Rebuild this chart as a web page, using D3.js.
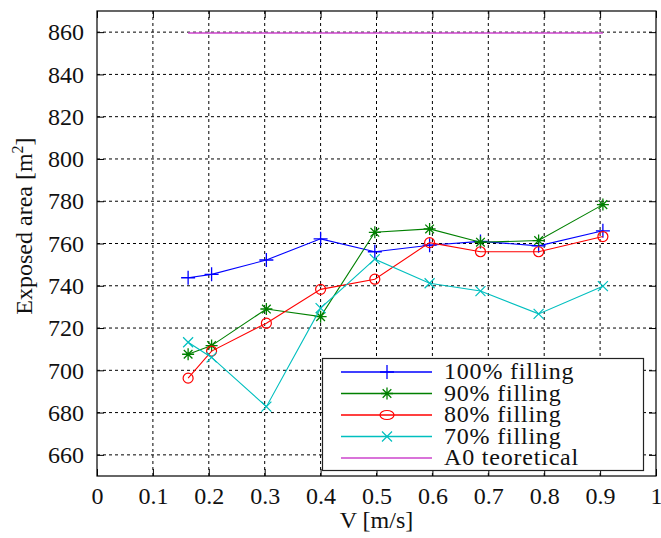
<!DOCTYPE html>
<html>
<head>
<meta charset="utf-8">
<script src="https://cdn.jsdelivr.net/npm/d3@7"></script>
<style>
  body { margin: 0; background: #fff; }
</style>
</head>
<body>
<svg id="chart"></svg>
<script>
const width = 661, height = 538;
const serifFont = '"Liberation Serif"';

// data
const velocity = [0.163, 0.205, 0.303, 0.4, 0.497, 0.595, 0.686, 0.79, 0.905];
const fill100 = [743.8, 745.4, 752.2, 762.2, 756.1, 759.2, 761.0, 758.9, 766.0];
const fill90 = [707.6, 711.7, 729.0, 725.4, 765.3, 766.9, 760.6, 761.4, 778.4];
const fill80 = [696.3, 709.1, 722.3, 738.3, 743.1, 760.4, 756.1, 756.1, 763.3];
const fill70 = [713.3, 706.1, 682.8, 729.4, 752.6, 741.2, 737.5, 726.7, 739.8];
const a0 = [859.6, 859.6, 859.6, 859.6, 859.6, 859.6, 859.6, 859.6, 859.6];

const xTicks = [0, 0.1, 0.2, 0.3, 0.4, 0.5, 0.6, 0.7, 0.8, 0.9, 1];
const yTicks = [660, 680, 700, 720, 740, 760, 780, 800, 820, 840, 860];

const series = [
  {name: "100% filling", values: fill100, color: "#0000ff", marker: "plus"},
  {name: "90% filling", values: fill90, color: "#008000", marker: "star"},
  {name: "80% filling", values: fill80, color: "#ff0000", marker: "circle"},
  {name: "70% filling", values: fill70, color: "#00bfbf", marker: "cross"},
  {name: "A0 teoretical", values: a0, color: "#cc44cc", marker: null}
];

const plotL = 97, plotR = 656, plotT = 11, plotB = 476;

const svg = d3.select("#chart")
  .attr("width", width)
  .attr("height", height);

const x = d3.scaleLinear().domain([0, 1]).range([plotL, plotR]);
const y = d3.scaleLinear().domain([650, 870]).range([plotB, plotT]);

// grid
svg.append("g")
  .selectAll("line")
  .data(xTicks.slice(1, -1))
  .enter().append("line")
  .attr("x1", d => x(d)).attr("x2", d => x(d))
  .attr("y1", plotT).attr("y2", plotB)
  .attr("stroke", "#000").attr("stroke-width", 1)
  .attr("stroke-dasharray", "3,3");
svg.append("g")
  .selectAll("line")
  .data(yTicks)
  .enter().append("line")
  .attr("x1", plotL).attr("x2", plotR)
  .attr("y1", d => y(d)).attr("y2", d => y(d))
  .attr("stroke", "#000").attr("stroke-width", 1)
  .attr("stroke-dasharray", "3,3");

// axes (ticks inward, on all sides)
const tick = 7;
svg.append("g").attr("transform", `translate(0,${plotB})`)
  .call(d3.axisBottom(x).tickValues(xTicks).tickSizeInner(-tick).tickSizeOuter(0).tickPadding(11).tickFormat(d3.format("~g")));
svg.append("g").attr("transform", `translate(0,${plotT})`)
  .call(d3.axisTop(x).tickValues(xTicks).tickSizeInner(-tick).tickSizeOuter(0).tickFormat(""));
svg.append("g").attr("transform", `translate(${plotL},0)`)
  .call(d3.axisLeft(y).tickValues(yTicks).tickSizeInner(-tick).tickSizeOuter(0).tickPadding(13));
svg.append("g").attr("transform", `translate(${plotR},0)`)
  .call(d3.axisRight(y).tickValues(yTicks).tickSizeInner(-tick).tickSizeOuter(0).tickFormat(""));

svg.selectAll(".domain").remove();
svg.selectAll("g").attr("font-family", null).attr("font-size", null);
svg.selectAll(".tick line").attr("stroke", "#000");
svg.selectAll(".tick text").style("font-size", "24px");

svg.append("rect")
  .attr("x", plotL).attr("y", plotT)
  .attr("width", plotR - plotL).attr("height", plotB - plotT)
  .attr("fill", "none").attr("stroke", "#000").attr("stroke-width", 1.2);

// marker drawing
function drawMarker(g, type, cx, cy, color, legend) {
  if (type === "plus") {
    g.append("path").attr("d", `M${cx - 7},${cy}H${cx + 7}M${cx},${cy - 7}V${cy + 7}`)
      .attr("stroke", color).attr("stroke-width", 1.3).attr("fill", "none");
  } else if (type === "star") {
    const r = 6, d = r * 0.72;
    g.append("path").attr("d", `M${cx - r},${cy}H${cx + r}M${cx},${cy - r}V${cy + r}M${cx - d},${cy - d}L${cx + d},${cy + d}M${cx - d},${cy + d}L${cx + d},${cy - d}`)
      .attr("stroke", color).attr("stroke-width", 1.3).attr("fill", "none");
  } else if (type === "circle") {
    g.append("ellipse").attr("cx", cx).attr("cy", cy)
      .attr("rx", legend ? 7 : 5).attr("ry", legend ? 4.5 : 5)
      .attr("stroke", color).attr("stroke-width", 1.2).attr("fill", "none");
  } else if (type === "cross") {
    const r = 5;
    g.append("path").attr("d", `M${cx - r},${cy - r}L${cx + r},${cy + r}M${cx - r},${cy + r}L${cx + r},${cy - r}`)
      .attr("stroke", color).attr("stroke-width", 1.2).attr("fill", "none");
  }
}

const line = d3.line()
  .x((d, i) => x(velocity[i]))
  .y(d => y(d));

// lines + markers
series.forEach(s => {
  const g = svg.append("g");
  g.append("path")
    .datum(s.values)
    .attr("fill", "none")
    .attr("stroke", s.color)
    .attr("stroke-width", s.marker ? 1.1 : 1.6)
    .attr("d", line);
  if (s.marker) {
    s.values.forEach((v, i) => drawMarker(g, s.marker, x(velocity[i]), y(v), s.color, false));
  }
});

// legend
const lg = svg.append("g");
lg.append("rect")
  .attr("x", 322.5).attr("y", 358.5)
  .attr("width", 321).attr("height", 112)
  .attr("fill", "#fff").attr("stroke", "#222").attr("stroke-width", 1.2);
series.forEach((s, i) => {
  const ly = 372 + i * 21.5;
  lg.append("line")
    .attr("x1", 341).attr("x2", 432)
    .attr("y1", ly).attr("y2", ly)
    .attr("stroke", s.color).attr("stroke-width", 1.3);
  if (s.marker) drawMarker(lg, s.marker, 387, ly, s.color, true);
  lg.append("text")
    .attr("x", 444).attr("y", ly + 7)
    .style("font-size", "24px")
    .style("letter-spacing", "0.8px")
    .text(s.name);
});

// axis titles
svg.append("text")
  .attr("x", (plotL + plotR) / 2).attr("y", 528)
  .attr("text-anchor", "middle")
  .style("font-size", "24px")
  .text("V [m/s]");

const yt = svg.append("text")
  .attr("transform", "translate(32,226) rotate(-90)")
  .attr("text-anchor", "middle")
  .style("font-size", "24px");
yt.append("tspan").text("Exposed area [m");
yt.append("tspan").attr("dy", -9).style("font-size", "16px").text("2");
yt.append("tspan").attr("dy", 9).text("]");

svg.selectAll("text")
  .attr("font-family", "Liberation Serif")
  .style("font-family", serifFont)
  .attr("fill", "#111");
</script>
</body>
</html>
